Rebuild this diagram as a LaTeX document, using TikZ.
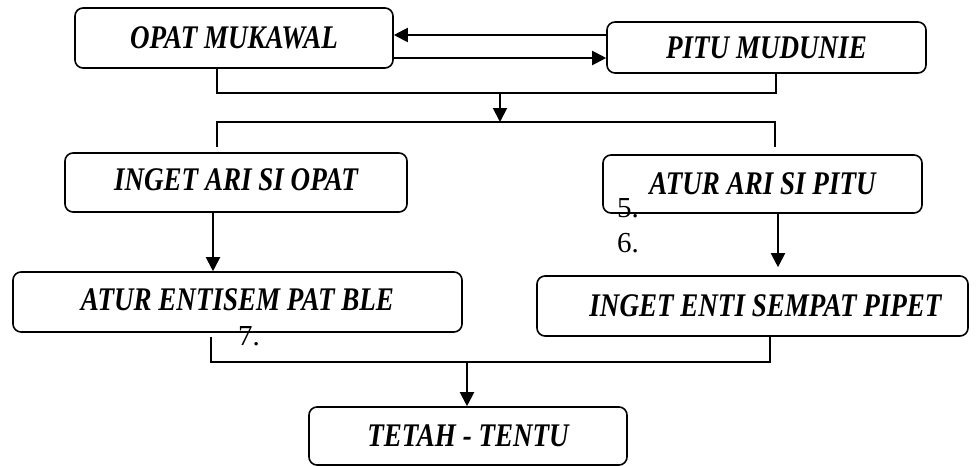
\documentclass[tikz,border=0pt]{standalone}
\usepackage{fontspec}
\setmainfont{Liberation Serif}
\newfontfamily\kotakfont[FakeStretch=0.82]{Liberation Serif}
\usetikzlibrary{arrows.meta}

\tikzset{
  kotak/.style={draw, rounded corners=8pt, line width=1.6pt, inner sep=0pt,
    font=\kotakfont\fontsize{33}{36}\selectfont\bfseries\itshape},
  garis/.style={line width=1.3pt},
  panah/.style={line width=2pt, -{Triangle[length=14pt,width=14pt]}},
  angka/.style={anchor=base west, inner sep=0pt, font=\fontsize{29}{31}\selectfont}
}

\begin{document}
\begin{tikzpicture}[x=1pt, y=-1pt]
\useasboundingbox (0,0) rectangle (978,466);

\node[kotak, minimum width=318pt, minimum height=60pt] (opat)   at (234  ,38 ) {OPAT MUKAWAL\hspace{16pt}};
\node[kotak, minimum width=319pt, minimum height=51pt] (pitu)   at (766.5,47.5) {PITU MUDUNIE};
\node[kotak, minimum width=342pt, minimum height=59pt] (ingetA) at (236  ,182.5) {\raisebox{5pt}{INGET ARI SI OPAT}};
\node[kotak, minimum width=319pt, minimum height=58pt] (aturA)  at (762.5,184) {ATUR ARI SI PITU};
\node[kotak, minimum width=449pt, minimum height=60pt] (aturE)  at (237.5,302) {\raisebox{5pt}{ATUR ENTISEM PAT BLE}\hspace{14pt}};
\node[kotak, minimum width=431pt, minimum height=60pt] (ingetE) at (752.5,306) {\hspace{26pt}INGET ENTI SEMPAT PIPET};
\node[kotak, minimum width=318pt, minimum height=58pt] (tetah)  at (468  ,436) {TETAH - TENTU};

\node[angka] (n5) at (617,217) {5.};
\node[angka] (n6) at (617,252) {6.};
\node[angka] (n7) at (238,345) {7.};

\coordinate (j1) at (500,93);
\coordinate (j2) at (500,122);
\coordinate (j3) at (467,362);
\coordinate (b2l) at ([xshift=-19pt,yshift=5pt]ingetA.north);
\coordinate (b2r) at ([xshift=12.5pt,yshift=7pt]aturA.north);
\coordinate (b3l) at ([xshift=-26.5pt,yshift=-4pt]aturE.south);
\coordinate (p1) at ([xshift=-23pt]ingetA.south);
\coordinate (p2) at ([xshift=15.5pt]aturA.south);
\coordinate (q2) at ([xshift=-2pt,yshift=8pt]ingetE.north);

\draw[panah] ([yshift=12.5pt]pitu.west) -- ([yshift=3pt]opat.east);
\draw[panah] ([yshift=-20pt]opat.east) -- ([yshift=-10.5pt]pitu.west);
\draw[garis] ([xshift=-17pt]opat.south) |- (j1) -| ([xshift=9.5pt]pitu.south);
\draw[panah] (j1) -- (j2);
\draw[garis] (b2l) |- (j2) -| (b2r);
\draw[panah] (p1) -- (p1 |- aturE.north);
\draw[panah] (p2) -- (p2 |- q2);
\draw[garis] (b3l) |- (j3) -| ([xshift=17.5pt]ingetE.south);
\draw[panah] (j3) -- (j3 |- tetah.north);

\end{tikzpicture}
\end{document}
